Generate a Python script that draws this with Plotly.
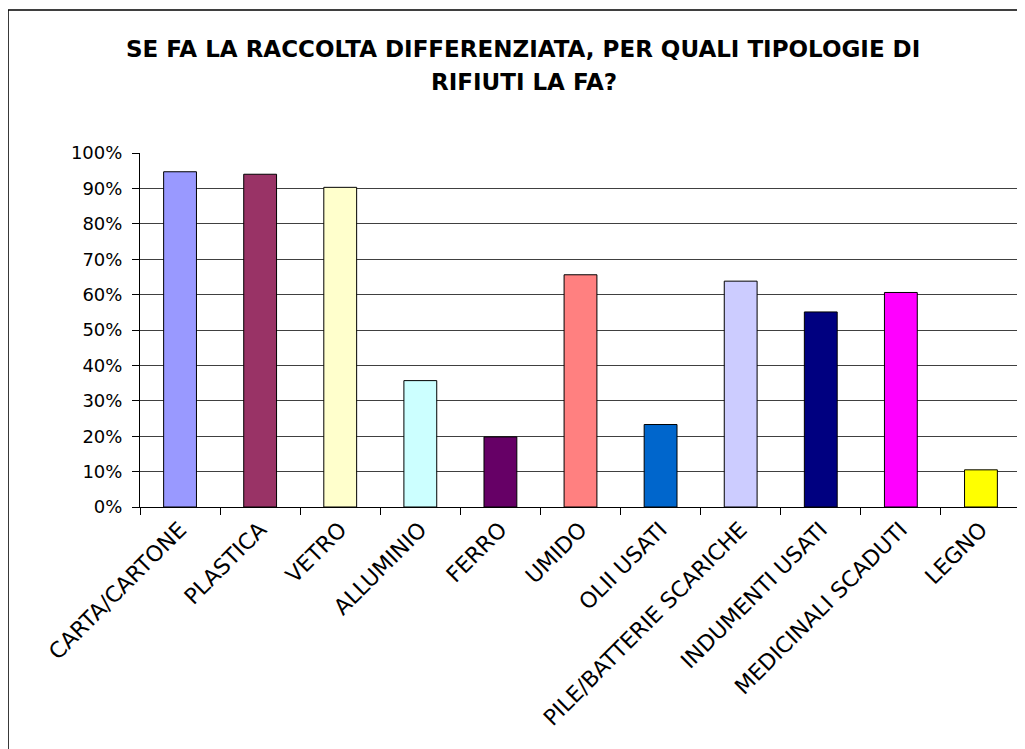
import plotly.graph_objects as go

categories = ["CARTA/CARTONE", "PLASTICA", "VETRO", "ALLUMINIO", "FERRO", "UMIDO",
              "OLII USATI", "PILE/BATTERIE SCARICHE", "INDUMENTI USATI",
              "MEDICINALI SCADUTI", "LEGNO"]
values = [0.947, 0.940, 0.903, 0.357, 0.198, 0.656, 0.233, 0.638, 0.551, 0.606, 0.105]
colors = ["#9999FF", "#993366", "#FFFFCC", "#CCFFFF", "#660066", "#FF8080",
          "#0066CC", "#CCCCFF", "#000080", "#FF00FF", "#FFFF00"]
title_lines = ["SE FA LA RACCOLTA DIFFERENZIATA, PER QUALI TIPOLOGIE DI", "RIFIUTI LA FA?"]

FONT = "DejaVu Sans"

fig = go.Figure(go.Bar(
    x=categories, y=values, width=0.41,
    marker=dict(color=colors, line=dict(color="#000000", width=1)),
    showlegend=False,
))

fig.update_layout(
    width=1025, height=749,
    margin=dict(l=132, r=12, t=145, b=250, autoexpand=False),
    paper_bgcolor="white", plot_bgcolor="white",
    font=dict(family=FONT, color="black"),
    bargap=0.59,
)

fig.update_yaxes(
    range=[0, 1], dtick=0.1, tickformat=".0%",
    showgrid=True, gridcolor="#404040", gridwidth=1,
    showline=True, linecolor="black", linewidth=1,
    ticks="outside", ticklen=7, tickcolor="black",
    tickfont=dict(family=FONT, size=18, color="black"),
    ticklabelstandoff=6, zeroline=False, fixedrange=True,
)
fig.update_xaxes(
    showline=True, linecolor="black", linewidth=1,
    ticks="outside", ticklen=7, tickcolor="black", tickson="boundaries",
    tickangle=-45, tickfont=dict(family=FONT, size=22, color="black"),
    showgrid=False, automargin=False, fixedrange=True,
)

# plot area right border (gray) and outer chart frame
fig.add_shape(type="line", xref="paper", yref="paper", x0=1, x1=1, y0=0, y1=1,
              line=dict(color="#808080", width=1))
fig.add_shape(type="rect", xref="paper", yref="paper",
              x0=-0.1498, x1=1.02, y0=-0.72, y1=1.404,
              line=dict(color="#000000", width=1.5), fillcolor="rgba(0,0,0,0)")

fig.add_annotation(text=title_lines[0], xref="paper", yref="paper",
                   x=0.4353, y=1.2938, xanchor="center", yanchor="middle",
                   showarrow=False, font=dict(family=FONT, size=23, color="black", weight="bold"))
fig.add_annotation(text=title_lines[1], xref="paper", yref="paper",
                   x=0.4359, y=1.2006, xanchor="center", yanchor="middle",
                   showarrow=False, font=dict(family=FONT, size=23, color="black", weight="bold"))

fig.write_html("out.html")
